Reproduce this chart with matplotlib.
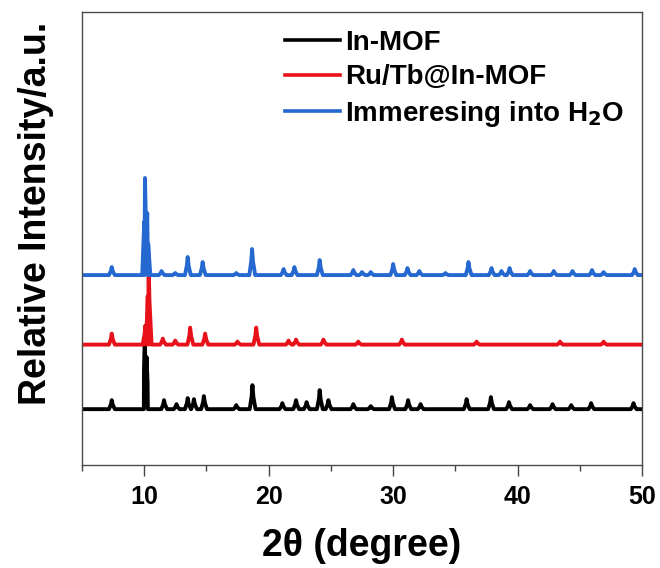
import numpy as np
import matplotlib
matplotlib.use('Agg')
import matplotlib.pyplot as plt

plt.rcParams['font.family'] = ['Liberation Sans', 'DejaVu Sans']
plt.rcParams['font.weight'] = 'bold'

labels = ['In-MOF', 'Ru/Tb@In-MOF', 'Immeresing into H$_2$O']
colors = ['#000000', '#e8111a', '#2468d0']
baselines = [56, 120.5, 190]

# peak positions (2theta) and heights above baseline
inmof_pos = [7.4, 10.05, 10.2, 11.6, 12.6, 13.5, 14.0, 14.8, 17.4, 18.7, 21.1, 22.2,
             23.05, 24.1, 24.8, 26.8, 28.2, 29.9, 31.2, 32.2, 35.9, 37.85, 39.3,
             41.0, 42.8, 44.3, 45.9, 49.3]
inmof_h = [9, 70, 52, 9, 5, 11, 10, 13, 4, 24, 6, 9,
           7, 19, 9, 5, 3, 12, 9, 5, 10, 12, 7,
           4, 5, 4, 6, 6]

rutb_pos = [7.4, 10.1, 10.35, 11.5, 12.5, 13.7, 14.9, 17.5, 19.0, 21.6, 22.2, 24.4,
            27.2, 30.7, 36.7, 43.4, 46.9]
rutb_h = [11, 19, 88, 6, 4, 17, 11, 3, 17, 4, 5, 5,
          3, 5, 3, 3, 3]

water_pos = [7.4, 10.07, 10.25, 11.4, 12.5, 13.5, 14.7, 17.4, 18.67, 21.2, 22.07, 24.1,
             26.8, 27.5, 28.2, 30.0, 31.15, 32.1, 34.2, 36.05, 37.9, 38.7, 39.35,
             41.0, 42.9, 44.4, 45.97, 46.9, 49.4]
water_h = [8, 97, 62, 4, 2, 18, 13, 2, 26, 6, 8, 15,
           5, 3, 3, 11, 7, 4, 2, 13, 7, 4, 7,
           4, 4, 4, 5, 3, 6]

peaks = [(inmof_pos, inmof_h), (rutb_pos, rutb_h), (water_pos, water_h)]

fig = plt.figure(figsize=(6.6, 5.68), dpi=100)
ax = fig.add_axes([0.124, 0.181, 0.849, 0.798])

for (pos, h), base, col, lab in zip(peaks, baselines, colors, labels):
    # peak outline: base - top - base for each peak on a flat baseline
    xs = [5.0]
    ys = [0.0]
    for p, hh in zip(pos, h):
        xs += [p - 0.22, p - 0.06, p, p + 0.08, p + 0.25]
        ys += [0.0, 0.55 * hh, hh, 0.5 * hh, 0.0]
    xs.append(50.0)
    ys.append(0.0)
    order = np.argsort(xs, kind='stable')
    xs = np.array(xs)[order]
    ys = np.array(ys)[order]
    ax.plot(xs, ys + base, color=col, lw=2.8, label=lab)

ax.set_xlim(5, 50)
ax.set_ylim(0, 453)
ax.set_xticks([10, 20, 30, 40, 50])
ax.set_xticks([5, 15, 25, 35, 45], minor=True)
ax.set_yticks([])
ax.tick_params(axis='x', which='major', direction='out', length=8, width=1,
               labelsize=18, pad=6, colors='#444444', labelcolor='black')
ax.tick_params(axis='x', which='minor', direction='out', length=4, width=1,
               colors='#444444')
for s in ax.spines.values():
    s.set_color('#4a4a4a')
    s.set_linewidth(1)

ax.set_xlabel('2θ (degree)', fontsize=27, fontweight='bold', labelpad=14)
ax.set_ylabel('Relative Intensity/a.u.', fontsize=27, fontweight='bold')
ax.yaxis.set_label_coords(-0.05, 0.556)

leg = ax.legend(loc='upper right', bbox_to_anchor=(1.0, 1.0), frameon=False,
                fontsize=20, handlelength=1.95, handletextpad=0.2,
                labelspacing=0.3, borderaxespad=0.25)
for l in leg.get_lines():
    l.set_linewidth(2.6)

fig.savefig('out.png', dpi=100)
